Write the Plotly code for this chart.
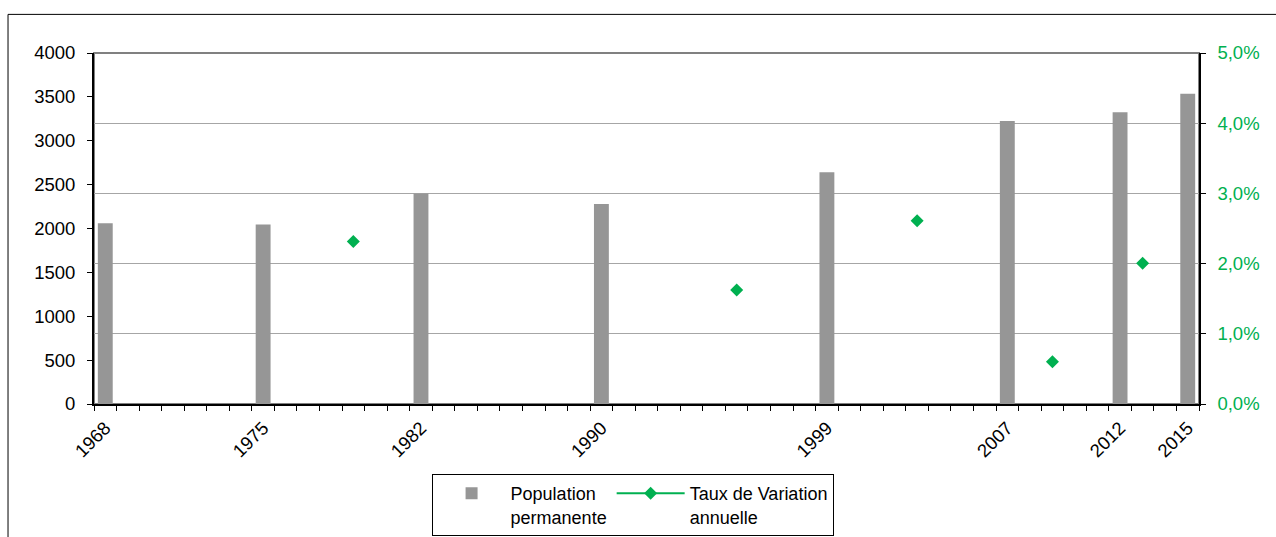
import plotly.graph_objects as go

# Census years (labelled category slots on the x axis)
census_years = ["1968", "1975", "1982", "1990", "1999", "2007", "2012", "2015"]
census_slots = [0, 7, 14, 22, 32, 40, 45, 48]
population = [2060, 2045, 2400, 2280, 2640, 3225, 3325, 3535]

# Annual growth rate, placed between census years
rate_slots = [11, 28, 36, 42, 46]
rate_values = [0.02314, 0.01625, 0.02609, 0.00603, 0.02006]

n_slots = 49

GREY_BAR = "#969696"
GREEN = "#00B050"
FONT = "Liberation Sans, Arial, sans-serif"
FS = 18.5

# rate series laid out over every slot so that empty slots break the line
rate_full = [None] * n_slots
for s, v in zip(rate_slots, rate_values):
    rate_full[s] = v

boundaries = [i - 0.5 for i in range(n_slots + 1)]
x_range = [-0.5, n_slots - 0.5]

fig = go.Figure()
fig.add_trace(go.Bar(
    x=census_slots, y=population, name="Population<br>permanente",
    marker=dict(color=GREY_BAR, line=dict(width=0)), width=0.66,
    yaxis="y",
))
fig.add_trace(go.Scatter(
    x=list(range(n_slots)), y=rate_full, name="Taux de Variation<br>annuelle",
    mode="lines+markers", connectgaps=False,
    line=dict(color=GREEN, width=2),
    marker=dict(symbol="diamond", size=10, color=GREEN),
    yaxis="y2",
))

fig.update_layout(
    width=1276, height=537,
    margin=dict(l=94, r=77, t=53, b=133, autoexpand=False),
    paper_bgcolor="white", plot_bgcolor="white",
    separators=", ",
    font=dict(family=FONT, size=FS, color="black"),
    showlegend=True,
    legend=dict(
        orientation="h", x=0.3055, xanchor="left", y=-0.1994, yanchor="top",
        bordercolor="black", borderwidth=1, bgcolor="white",
        font=dict(family=FONT, size=18, color="black"),
        itemwidth=68, valign="top", traceorder="normal",
    ),
    xaxis=dict(
        range=x_range, tickmode="array", tickvals=census_slots, ticktext=census_years,
        tickangle=-45, ticks="", showgrid=False, zeroline=False, automargin=False,
        showline=True, linecolor="black", linewidth=2, ticklabelstandoff=4,
        minor=dict(tickmode="array", tickvals=boundaries, ticks="outside",
                   ticklen=5, tickwidth=1, tickcolor="black", showgrid=False),
        tickfont=dict(family=FONT, size=FS, color="black"),
    ),
    xaxis3=dict(
        overlaying="x", anchor="y", range=x_range, tickmode="array",
        tickvals=boundaries, ticks="inside", ticklen=5, tickwidth=1,
        tickcolor="black", showticklabels=False, showgrid=False, automargin=False,
        zeroline=False, showline=False, side="bottom",
    ),
    yaxis=dict(
        range=[0, 4000], tickmode="linear", tick0=0, dtick=500, tickformat="d",
        ticks="outside", ticklen=5, tickwidth=1, tickcolor="black", automargin=False,
        showgrid=False, zeroline=False, showline=True, linecolor="black",
        linewidth=2, ticklabelstandoff=8,
        tickfont=dict(family=FONT, size=FS, color="black"),
    ),
    yaxis3=dict(
        overlaying="y", anchor="x", side="left", range=[0, 4000], automargin=False,
        tickmode="linear", tick0=0, dtick=500, ticks="inside", ticklen=5,
        tickwidth=1, tickcolor="black", showticklabels=False, showgrid=False,
        zeroline=False, showline=False,
    ),
    yaxis2=dict(
        overlaying="y", side="right", anchor="x", range=[0, 0.05], automargin=False,
        tickmode="linear", tick0=0, dtick=0.01, tickformat=".1%",
        ticks="outside", ticklen=5, tickwidth=1, tickcolor="black",
        showgrid=True, gridcolor="#a6a6a6", gridwidth=1, zeroline=False,
        showline=True, linecolor="black", linewidth=1.5, ticklabelstandoff=8,
        tickfont=dict(family=FONT, size=FS, color=GREEN),
    ),
    yaxis4=dict(
        overlaying="y", anchor="x", side="right", range=[0, 0.05], automargin=False,
        tickmode="linear", tick0=0, dtick=0.01, ticks="inside", ticklen=3,
        tickwidth=1, tickcolor="black", showticklabels=False, showgrid=False,
        zeroline=False, showline=False,
    ),
    shapes=[
        # plot area frame
        dict(type="rect", xref="x domain", yref="y domain", x0=0, x1=1, y0=0, y1=1,
             line=dict(color="#808080", width=2), layer="below"),
        # outer chart frame
        dict(type="rect", xref="paper", yref="paper", x0=-0.0778, x1=1.2,
             y0=-1.0, y1=1.110, line=dict(color="black", width=1), layer="below"),
    ],
)

fig.write_html("out.html")
